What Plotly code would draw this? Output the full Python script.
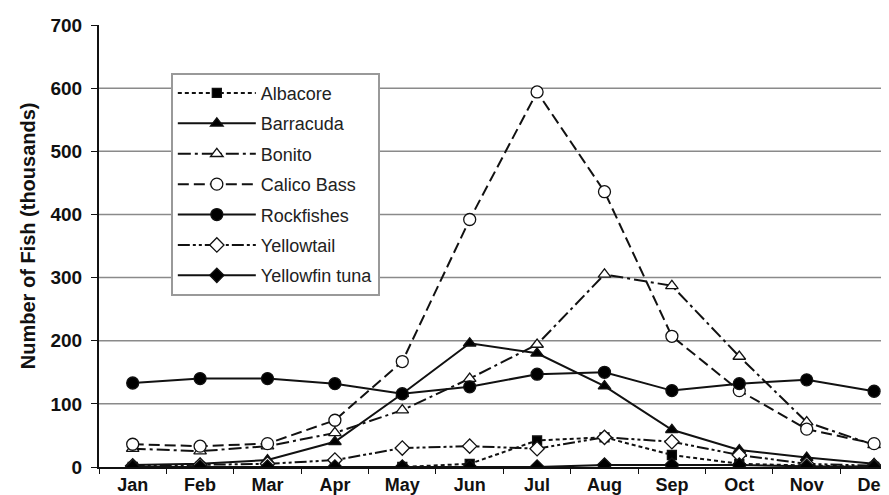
import plotly.graph_objects as go

months = ["Jan", "Feb", "Mar", "Apr", "May", "Jun", "Jul", "Aug", "Sep", "Oct", "Nov", "Dec"]

albacore = [0, 0, 0, 1, 0, 5, 42, 47, 19, 5, 2, 0]
barracuda = [3, 5, 11, 40, 116, 196, 180, 128, 59, 27, 15, 5]
bonito = [29, 25, 33, 54, 90, 140, 194, 305, 287, 175, 71, 35]
calico_bass = [36, 33, 37, 74, 167, 392, 594, 436, 207, 121, 60, 37]
rockfishes = [133, 140, 140, 132, 116, 127, 147, 150, 121, 132, 138, 120]
yellowtail = [2, 3, 5, 11, 30, 33, 29, 47, 40, 19, 5, 2]
yellowfin_tuna = [0, 0, 0, 0, 0, 0, 0, 3, 3, 3, 1, 0]

series = [
    ("Albacore", albacore, "4px,3px", "square", "black", 9),
    ("Barracuda", barracuda, "solid", "triangle-up", "black", 11),
    ("Bonito", bonito, "13px,4px,3px,4px", "triangle-up", "white", 11),
    ("Calico Bass", calico_bass, "11px,5px", "circle", "white", 12),
    ("Rockfishes", rockfishes, "solid", "circle", "black", 12),
    ("Yellowtail", yellowtail, "12px,3px,3px,3px,3px,3px", "diamond", "white", 11),
    ("Yellowfin tuna", yellowfin_tuna, "solid", "diamond", "black", 11),
]

FONT = "Liberation Sans, Arial, sans-serif"

fig = go.Figure()
for i, (name, vals, dash, sym, fill, msize) in enumerate(series):
    fig.add_trace(go.Scatter(
        x=months, y=vals, name=name, mode="lines+markers",
        legendgroup=f"g{i}",
        line=dict(color="#111", width=2, dash=dash),
        marker=dict(symbol=sym, size=msize, color=fill,
                    line=dict(color="#111", width=1.3)),
    ))

fig.update_layout(
    width=889, height=495,
    margin=dict(l=91, r=0, t=17, b=36, autoexpand=False),
    paper_bgcolor="white", plot_bgcolor="white",
    showlegend=True,
    legend=dict(
        x=0.09, y=0.892, xanchor="left", yanchor="top",
        bgcolor="white", bordercolor="#999", borderwidth=2,
        font=dict(family=FONT, size=18, color="#222"),
        traceorder="grouped", tracegroupgap=4, itemwidth=78,
    ),
    xaxis=dict(
        type="category", range=[-0.5, 11.34], automargin=False,
        showline=True, linecolor="#111", linewidth=2,
        ticks="outside", tickson="boundaries", ticklen=5, tickcolor="#111",
        showgrid=False, zeroline=False,
        tickfont=dict(family=FONT, size=18, color="#111", weight="bold"),
    ),
    yaxis=dict(
        range=[0, 700], tickvals=[0, 100, 200, 300, 400, 500, 600, 700],
        automargin=False,
        showline=True, linecolor="#111", linewidth=2,
        ticks="outside", ticklen=6, tickcolor="#111",
        showgrid=False, zeroline=False, ticklabelstandoff=5,
        tickfont=dict(family=FONT, size=19, color="#111", weight="bold"),
    ),
    annotations=[dict(
        text="Number of Fish (thousands)", textangle=-90,
        xref="paper", yref="paper", x=-0.088, y=0.524,
        xanchor="center", yanchor="middle", showarrow=False,
        font=dict(family=FONT, size=20, color="#111", weight="bold"),
    )],
)

for gy in range(100, 700, 100):
    fig.add_shape(type="line", xref="paper", yref="y", x0=0, x1=1, y0=gy, y1=gy,
                  line=dict(color="#8a8a8a", width=1.5), layer="below")

fig.write_html("out.html")
